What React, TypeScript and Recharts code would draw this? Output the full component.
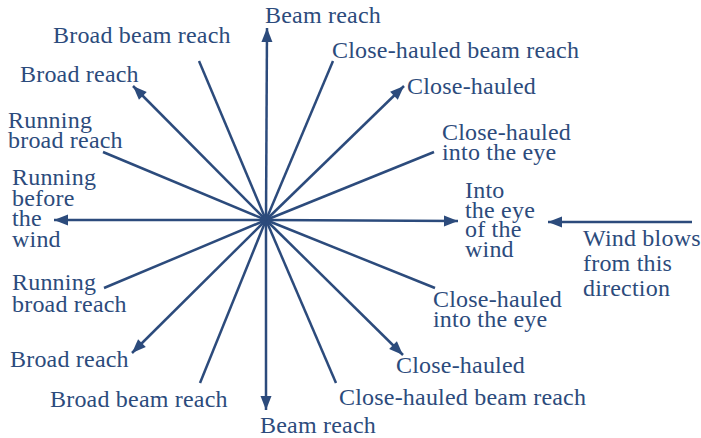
import { ScatterChart, Scatter, XAxis, YAxis } from 'recharts';

// centre of the star, in picture pixels
const centre = { x: 266, y: 220 };

// ray end points (picture pixels), clockwise from the top
const rayX = [267, 333, 404, 434, 458, 435, 403, 336, 266, 200, 132, 104, 54, 103, 133, 199];
const rayY = [28, 61, 86, 152, 221, 288, 355, 383, 410, 383, 353, 288, 220, 152, 86, 61];
const rayArrow = [true, false, true, false, true, false, true, false, true, false, true, false, true, false, true, false];

// wind arrow
const windFrom = { x: 692, y: 222 };
const windTo = { x: 548, y: 222 };

// labels: first line baseline, start x
const labelText = [
  ['Beam reach'],
  ['Broad beam reach'],
  ['Close-hauled beam reach'],
  ['Broad reach'],
  ['Close-hauled'],
  ['Running', 'broad reach'],
  ['Close-hauled', 'into the eye'],
  ['Running', 'before', 'the', 'wind'],
  ['Into', 'the eye', 'of the', 'wind'],
  ['Wind blows', 'from this', 'direction'],
  ['Running', 'broad reach'],
  ['Close-hauled', 'into the eye'],
  ['Broad reach'],
  ['Close-hauled'],
  ['Broad beam reach'],
  ['Close-hauled beam reach'],
  ['Beam reach'],
];
const labelX = [265, 53, 332, 20, 407, 8, 442, 12, 465, 583, 12, 433, 10, 396, 50, 339, 260];
const labelY = [23, 43, 58, 82, 94, 128, 140, 185, 198, 246, 290, 307, 367, 373, 407, 405, 433];
const labelGap = [0, 0, 0, 0, 0, 20, 20, 20.5, 19.5, 25, 22, 20, 0, 0, 0, 0, 0];

const INK = '#2c4b7c';
const FONT = '"Liberation Serif", "Times New Roman", serif';

const Arrow = (props: any) => {
  const { cx, cy, payload } = props;
  if (!payload.arrow) return <g />;
  const len = Math.hypot(payload.dx, payload.dy) || 1;
  const ux = payload.dx / len;
  const uy = payload.dy / len;
  const L = 14;
  const W = 5.5;
  const bx = cx - ux * L;
  const by = cy - uy * L;
  const pts = `${cx},${cy} ${bx - uy * W},${by + ux * W} ${bx + uy * W},${by - ux * W}`;
  return <polygon points={pts} fill={INK} />;
};

const Label = (props: any) => {
  const { cx, cy, payload } = props;
  return (
    <text x={cx} y={cy} fill={INK} fontFamily={FONT} fontSize={24} letterSpacing={0.2}>
      {payload.lines.map((l: string, i: number) => (
        <tspan key={i} x={cx} dy={i === 0 ? 0 : payload.gap}>
          {l}
        </tspan>
      ))}
    </text>
  );
};

const rays = rayX.map((x, i) => [
  { x: centre.x, y: centre.y, arrow: false, dx: 0, dy: 0 },
  { x, y: rayY[i], arrow: rayArrow[i], dx: x - centre.x, dy: rayY[i] - centre.y },
]);

const wind = [
  { x: windFrom.x, y: windFrom.y, arrow: false, dx: 0, dy: 0 },
  { x: windTo.x, y: windTo.y, arrow: true, dx: windTo.x - windFrom.x, dy: windTo.y - windFrom.y },
];

const labels = labelText.map((lines, i) => ({ x: labelX[i], y: labelY[i], lines, gap: labelGap[i] }));

export default function App() {
  return (
    <div style={{ position: 'absolute', left: 0, top: 0, background: '#fff' }}>
      <ScatterChart width={701} height={438} margin={{ top: 0, right: 0, bottom: 0, left: 0 }}>
        <XAxis type="number" dataKey="x" domain={[0, 701]} hide />
        <YAxis type="number" dataKey="y" domain={[0, 438]} reversed hide />
        {rays.map((d, i) => (
          <Scatter
            key={i}
            data={d}
            line={{ stroke: INK, strokeWidth: 2.5 }}
            shape={Arrow}
            isAnimationActive={false}
          />
        ))}
        <Scatter data={wind} line={{ stroke: INK, strokeWidth: 2.5 }} shape={Arrow} isAnimationActive={false} />
        <Scatter data={labels} shape={Label} isAnimationActive={false} />
      </ScatterChart>
    </div>
  );
}
